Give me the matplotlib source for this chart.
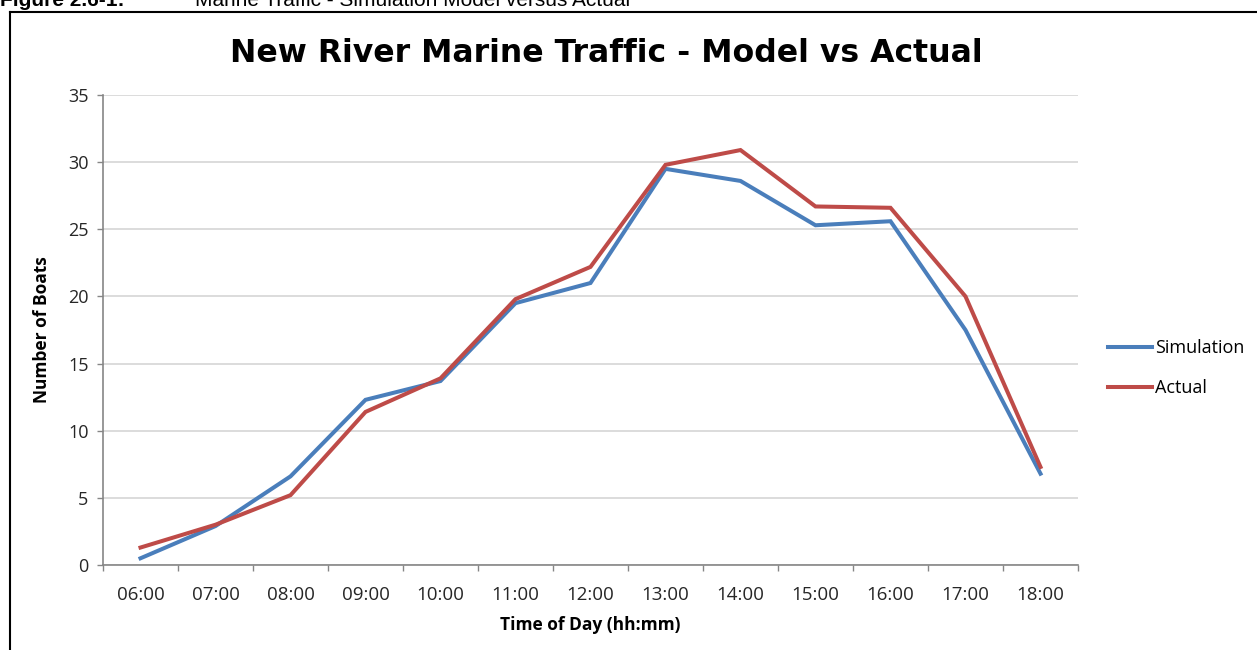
import numpy as np
import matplotlib.pyplot as plt
from matplotlib.lines import Line2D

# ── data ───────────────────────────────────────────────
hours      = ["06:00", "07:00", "08:00", "09:00", "10:00", "11:00", "12:00",
              "13:00", "14:00", "15:00", "16:00", "17:00", "18:00"]
simulation = [0.5, 2.9, 6.6, 12.3, 13.7, 19.5, 21.0, 29.5, 28.6, 25.3, 25.6, 17.5, 6.8]
actual     = [1.3, 3.0, 5.2, 11.4, 13.9, 19.8, 22.2, 29.8, 30.9, 26.7, 26.6, 20.0, 7.3]

BLUE = "#4a7ebb"
RED  = "#be4b48"
GRID = "#d9d9d9"
AXIS = "#868686"
TXT  = "#262626"

plt.rcParams["font.family"] = ["Open Sans", "DejaVu Sans"]

fig = plt.figure(figsize=(12.57, 6.5), dpi=100)
ax = fig.add_axes([103/1257, 1 - 565/650, 975/1257, 470/650])

x = np.arange(len(hours))
ax.plot(x, simulation, color=BLUE, lw=2.9, solid_joinstyle="miter", zorder=3)
ax.plot(x, actual, color=RED, lw=2.9, solid_joinstyle="miter", zorder=3)

ax.set_xlim(-0.5, len(hours) - 0.5)
ax.set_ylim(0, 35)
ax.set_yticks(range(0, 36, 5))
ax.set_xticks(x)
ax.set_xticklabels(hours)
# tick marks sit between categories
ax.set_xticks(np.arange(-0.5, len(hours)), minor=True)
ax.tick_params(axis="x", which="major", length=0, pad=15, labelsize=13.5, labelcolor=TXT)
ax.tick_params(axis="x", which="minor", length=4.5, color=AXIS, width=1)
ax.tick_params(axis="y", length=4.5, color=AXIS, width=1, pad=6, labelsize=13, labelcolor=TXT)

ax.grid(axis="y", color=GRID, lw=1.3)
ax.set_axisbelow(True)
for side in ("top", "right"):
    ax.spines[side].set_visible(False)
for side in ("left", "bottom"):
    ax.spines[side].set_color(AXIS)
    ax.spines[side].set_linewidth(1.2)

ax.set_xlabel("Time of Day (hh:mm)", fontsize=12.5, fontweight="bold", labelpad=9, color="black")
ax.set_ylabel("Number of Boats", fontsize=12.5, fontweight="bold", labelpad=12, color="black")

fig.text(606/1257, 1 - 53/650, "New River Marine Traffic - Model vs Actual",
         ha="center", va="center", fontsize=22.7, fontweight="bold",
         family=["DejaVu Sans"])

handles = [Line2D([], [], color=BLUE, lw=2.9), Line2D([], [], color=RED, lw=2.9)]
fig.legend(handles, ["Simulation", "Actual"], loc="center left",
           bbox_to_anchor=(1108/1257, 1 - 368/650), frameon=False,
           borderpad=0, borderaxespad=0, handlelength=2.45,
           handletextpad=0.15, labelspacing=1.2, fontsize=13)

# outer frame and clipped caption above it
fig.add_artist(plt.Line2D([10/1257, 10/1257], [0, 1 - 12/650],
                          transform=fig.transFigure, color="black", lw=1.5))
fig.add_artist(plt.Line2D([10/1257, 1], [1 - 12/650, 1 - 12/650],
                          transform=fig.transFigure, color="black", lw=1.5))
fig.text(0.0, 1 - 6/650, "Figure 2.6-1:", ha="left", va="baseline",
         fontsize=15, fontweight="bold", family=["Liberation Sans", "DejaVu Sans"])
fig.text(195/1257, 1 - 6/650, "Marine Traffic - Simulation Model versus Actual",
         ha="left", va="baseline", fontsize=15,
         family=["Liberation Sans", "DejaVu Sans"])

fig.savefig("out.png", dpi=100)
